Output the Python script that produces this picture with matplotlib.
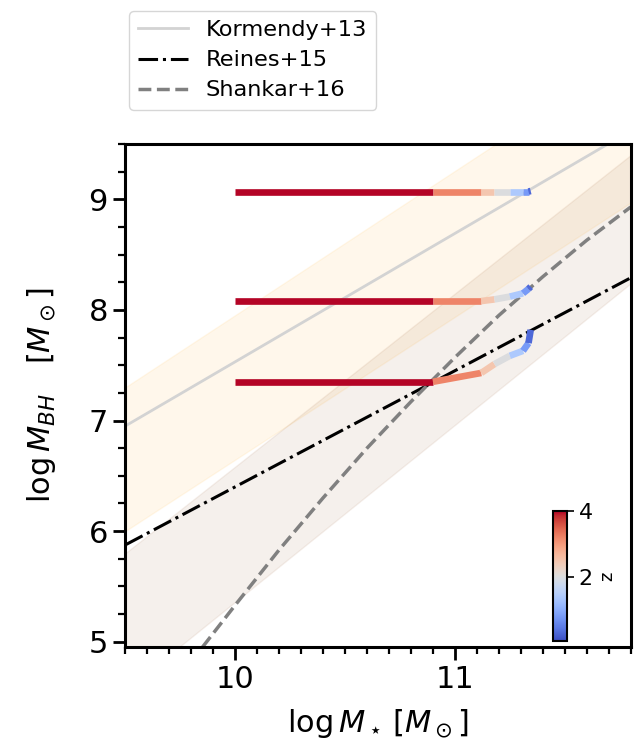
import numpy as np
import matplotlib
matplotlib.use('Agg')
import matplotlib.pyplot as plt
from matplotlib.collections import LineCollection
from matplotlib.colors import Normalize
from matplotlib.ticker import MultipleLocator

# Scaling relations
kormendy_x = [9.5, 11.8]
kormendy_y = [6.95, 9.62]
reines_x = [9.5, 11.8]
reines_y = [5.875, 8.29]
shankar_x = [9.8, 10.0, 10.2, 10.4, 10.6, 10.8, 11.0, 11.2, 11.4, 11.6, 11.8]
shankar_y = [4.82, 5.33, 5.83, 6.30, 6.75, 7.17, 7.57, 7.95, 8.30, 8.63, 8.93]

# Scatter bands
band_x = [9.5, 11.8]
orange_hi = [7.30, 10.30]
orange_lo = [6.00, 8.97]
brown_hi = [5.80, 9.40]
brown_lo = [4.56, 8.24]

# Tracks: vertices and redshift of each segment
track_x = [10.0, 10.9, 11.12, 11.18, 11.25, 11.31, 11.335, 11.345]
track_top_y = [9.07, 9.07, 9.07, 9.07, 9.07, 9.07, 9.07, 9.075]
track_mid_y = [8.08, 8.08, 8.08, 8.095, 8.12, 8.15, 8.19, 8.21]
track_bot_y = [7.35, 7.35, 7.43, 7.51, 7.585, 7.63, 7.70, 7.82]
seg_z = [4.5, 3.2, 2.5, 2.0, 1.4, 0.8, 0.3]

fig = plt.figure(figsize=(6.39, 7.5), dpi=100)
ax = fig.add_axes([0.196, 0.137, 0.791, 0.671])

ax.fill_between(band_x, orange_lo, orange_hi, color='orange', alpha=0.08, lw=1)
ax.fill_between(band_x, brown_lo, brown_hi, color='saddlebrown', alpha=0.08, lw=1)

ax.plot(kormendy_x, kormendy_y, color='lightgray', lw=2, label='Kormendy+13')
ax.plot(reines_x, reines_y, color='black', ls='-.', lw=2.2, label='Reines+15')
ax.plot(shankar_x, shankar_y, color='gray', ls='--', lw=2.5, label='Shankar+16')

norm = Normalize(vmin=0.05, vmax=4.0)
cmap = plt.get_cmap('coolwarm')
for ty in [track_top_y, track_mid_y, track_bot_y]:
    pts = np.column_stack([track_x, ty])
    segs = np.stack([pts[:-1], pts[1:]], axis=1)
    lc = LineCollection(segs, cmap=cmap, norm=norm, lw=4.8, capstyle='butt', zorder=4)
    lc.set_array(np.array(seg_z))
    ax.add_collection(lc)

ax.set_xlim(9.5, 11.8)
ax.set_ylim(4.95, 9.5)
ax.xaxis.set_major_locator(MultipleLocator(1))
ax.xaxis.set_minor_locator(MultipleLocator(0.1))
ax.yaxis.set_major_locator(MultipleLocator(1))
ax.yaxis.set_minor_locator(MultipleLocator(0.25))
ax.tick_params(which='major', length=9, width=2, labelsize=22)
ax.tick_params(which='minor', length=5, width=1.6)
for s in ax.spines.values():
    s.set_linewidth(2.2)

ax.set_xlabel(r'$\log M_\star\,[M_\odot]$', fontsize=22, labelpad=10)
ax.set_ylabel(r'$\log M_{BH}\quad[M_\odot]$', fontsize=22, labelpad=22)

# colorbar inset
cax = ax.inset_axes([0.846, 0.012, 0.028, 0.258])
sm = plt.cm.ScalarMappable(norm=norm, cmap=cmap)
cb = fig.colorbar(sm, cax=cax, ticks=[2, 4])
cb.outline.set_linewidth(1.5)
cb.ax.tick_params(labelsize=16, length=5, width=1.2)
cb.set_label('z', fontsize=13)

fig.legend(loc='upper left', bbox_to_anchor=(0.185, 1.0), fontsize=16.2,
           handlelength=2.2, borderpad=0.4, labelspacing=0.45)

fig.savefig('out.png', dpi=100)
